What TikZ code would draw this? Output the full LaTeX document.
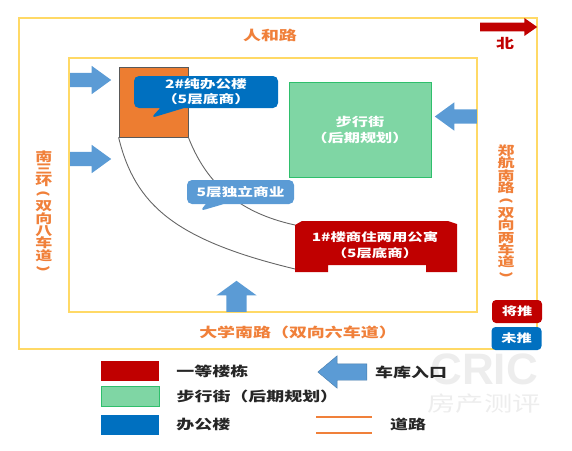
\documentclass[tikz,border=0pt]{standalone}
\usepackage{fontspec}
\setmainfont[FakeStretch=1.35]{Noto Sans CJK SC}
\newfontfamily\latinbold{Liberation Sans}
\usepackage{xcolor}
\usepackage{tikz}
\usetikzlibrary{arrows.meta,positioning,shapes.arrows,shapes.callouts}
\definecolor{roadorange}{HTML}{F0803A}
\definecolor{edgeyellow}{HTML}{FFD966}
\definecolor{officeorange}{HTML}{ED7D31}
\definecolor{deepred}{HTML}{C00000}
\definecolor{officeblue}{HTML}{0070C0}
\definecolor{lightblue}{HTML}{5B9BD5}
\definecolor{walkgreen}{HTML}{7FD6A4}
\definecolor{walkedge}{HTML}{2FBF6C}
\definecolor{markgray}{HTML}{EDEDED}
\newcommand{\vopen}{\rotatebox[origin=c]{-90}{(}}
\newcommand{\vclose}{\rotatebox[origin=c]{-90}{)}}
\newcommand{\tightlines}{\lineskiplimit=-30pt\relax}

\begin{document}
\begin{tikzpicture}[
  x=1pt,y=-1pt,
  road/.style={text=roadorange,font=\fontsize{13.3}{14}\selectfont\bfseries,inner sep=0pt,align=center},
  sideroad/.style={road,font=\fontsize{12.6}{12.4}\selectfont\bfseries\tightlines},
  parcel/.style={draw=edgeyellow,line width=1.3pt},
  blockarrow/.style={single arrow,fill=lightblue,draw=none,inner sep=#1,single arrow head extend=#1,anchor=tail},
  bubble/.style={rectangle callout,rounded corners=5pt,text=white,align=center,inner sep=0pt,font=\fontsize{11.6}{15}\selectfont\bfseries\tightlines},
  tag/.style={rounded corners=4pt,text=white,align=center,inner sep=0pt,minimum width=50pt,minimum height=23pt,font=\fontsize{11.3}{14}\selectfont\bfseries},
  swatch/.style={minimum width=58pt,minimum height=20pt,inner sep=0pt},
  legendtext/.style={inner sep=0pt,font=\fontsize{13.3}{16}\selectfont\bfseries,text=black!85},
  lane/.style={draw=roadorange,line width=1.1pt},
  curveroad/.style={draw=black!60,line width=.9pt}
]
\useasboundingbox (0,0) rectangle (572,450);

\node[text=markgray,inner sep=0pt,font=\fontsize{44}{44}\selectfont\latinbold\bfseries] (markcric) at (484,369) {CRIC};
\node[text=markgray,inner sep=0pt,font=\fontsize{21}{23}\selectfont] (markname) at (484,404) {房产测评};

\node[parcel,minimum width=518pt,minimum height=331pt,inner sep=0pt] (outer) at (278,183.5) {};
\node[parcel,minimum width=408pt,minimum height=254pt,inner sep=0pt] (inner) at (273,185) {};

\node[road] (north) at (270,35) {人和路};
\node[road] (south) at (298,332) {大学南路（双向六车道）};
\node[sideroad] (west) at (44,211.5) {南\\三\\环\\\vopen\\双\\向\\八\\车\\道\\\vclose};
\node[sideroad] (east) at (506,212) {郑\\航\\南\\路\\\vopen\\双\\向\\两\\车\\道\\\vclose};

\node[blockarrow=7pt,minimum height=41pt,single arrow tip angle=72] (gateA) at (70,80) {};
\node[blockarrow=7pt,minimum height=41pt,single arrow tip angle=72] (gateB) at (70,159) {};
\node[blockarrow=7pt,minimum height=42pt,single arrow tip angle=72,shape border rotate=180] (gateC) at (477,116.5) {};
\node[blockarrow=10pt,minimum height=31pt,single arrow tip angle=108,shape border rotate=90] (gateD) at (236.5,312) {};

\node[fill=officeorange,draw=black!65,line width=.8pt,minimum width=69pt,minimum height=70pt,inner sep=0pt] (office) at (153.5,102) {};
\node[fill=walkgreen,draw=walkedge,line width=.8pt,minimum width=142pt,minimum height=95pt,text=white,align=center,inner sep=0pt,font=\fontsize{12}{16}\selectfont\bfseries\tightlines] (walk) at (360,129.5) {步行街\\（后期规划）};

\fill[deepred] (295,225) -- (302,221) -- (448,221) -- (457,224) -- (457,272) -- (426,272) -- (426,265) -- (328,265) -- (328,272) -- (295,272) -- cycle;
\node[inner sep=0pt,text=white,align=center,font=\fontsize{11.4}{16.5}\selectfont\bfseries\tightlines] (flats) at (375,245) {1\#楼商住两用公寓\\（5层底商）};
\coordinate (flatsA) at (295,225);
\coordinate (flatsB) at (295,269);

\draw[curveroad] (office.south west) .. controls (135,205) and (175,240) .. (flatsB);
\draw[curveroad] (office.south east) .. controls (205,180) and (235,212) .. (flatsA);

\node[bubble,fill=officeblue,minimum width=144pt,minimum height=32pt,callout absolute pointer={(151,118)},callout pointer width=24pt] (officetag) at (206,92) {2\#纯办公楼\\（5层底商）};
\node[bubble,fill=lightblue,minimum width=107pt,minimum height=24pt,callout absolute pointer={(200,211)},callout pointer width=18pt] (shoptag) at (240.5,192) {5层独立商业};

\node[single arrow,fill=deepred,inner sep=4.2pt,single arrow head extend=4.5pt,minimum height=57pt,single arrow tip angle=70,anchor=tail] (compass) at (480,27) {};
\node[inner sep=0pt,text=deepred,font=\fontsize{13.3}{14}\selectfont\bfseries] (compasstext) at (505,43) {北};

\node[tag,fill=deepred] (planned) at (517,311.5) {将推};
\node[tag,fill=officeblue] (unplanned) at (516.5,338.5) {未推};

\node[swatch,fill=deepred] (keyred) at (130,371) {};
\node[swatch,fill=walkgreen,draw=walkedge,line width=.8pt] (keygreen) at (130,396) {};
\node[swatch,fill=officeblue] (keyblue) at (130,424.5) {};
\node[legendtext,right=17pt of keyred] (keyredtext) {一等楼栋};
\node[legendtext,right=17pt of keygreen] (keygreentext) {步行街（后期规划）};
\node[legendtext,right=17pt of keyblue] (keybluetext) {办公楼};

\node[blockarrow=8pt,minimum height=49pt,single arrow tip angle=80,shape border rotate=180,draw=lightblue!80!black,line width=.4pt] (keygate) at (367,372) {};
\node[legendtext,right=8pt of keygate.tail] (keygatetext) {车库入口};
\coordinate (laneA) at (316,417);
\coordinate (laneB) at (372,417);
\coordinate (laneC) at (316,433);
\coordinate (laneD) at (372,433);
\draw[lane] (laneA) -- (laneB);
\draw[lane] (laneC) -- (laneD);
\node[legendtext] (lanetext) at (408,424.5) {道路};
\end{tikzpicture}
\end{document}
